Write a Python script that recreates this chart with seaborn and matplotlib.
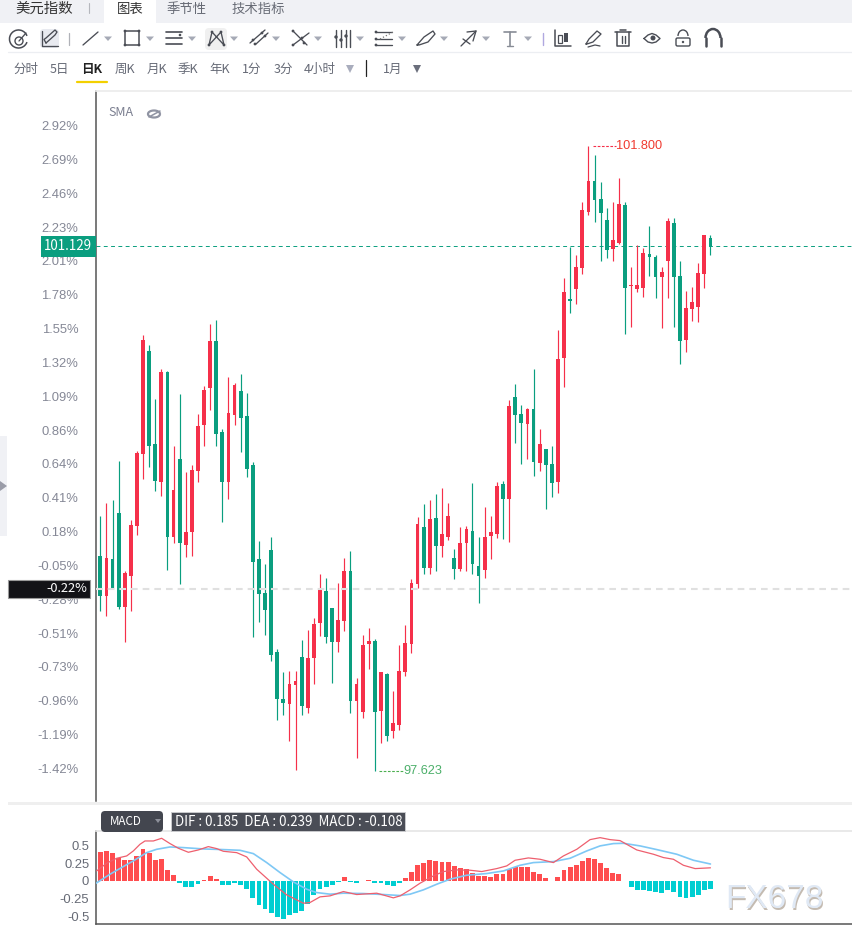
import numpy as np
import pandas as pd
import matplotlib
matplotlib.use("Agg")
import matplotlib.pyplot as plt
from matplotlib.patches import Rectangle, Circle, FancyBboxPatch, Arc, Polygon
from matplotlib.transforms import ScaledTranslation
import seaborn as sns

# Daily candles for the US dollar index (open / high / low / close)
candle_open = [99.060,98.793,99.040,99.347,98.719,98.926,99.260,99.742,100.430,99.809,99.555,100.290,99.187,99.709,99.133,99.220,99.628,99.936,100.183,100.497,99.889,99.555,100.003,100.163,99.996,99.668,99.040,98.813,99.100,98.419,98.105,98.071,98.198,98.386,98.045,98.379,98.612,98.826,98.713,98.485,98.625,98.960,98.091,98.018,98.472,98.492,98.024,98.272,97.891,97.931,98.285,98.472,98.873,99.253,98.980,99.313,99.127,99.187,99.047,98.973,99.147,99.227,98.993,98.966,99.193,99.207,99.541,99.441,100.123,100.009,99.943,100.043,99.682,99.776,99.675,99.555,100.384,100.778,100.845,100.985,101.359,101.566,101.446,101.306,101.112,101.152,101.406,100.865,100.845,100.851,101.078,101.058,100.925,101.031,101.286,100.931,100.504,100.711,100.724,100.945,101.186]
candle_high = [99.327,99.414,99.434,99.695,98.959,99.300,99.762,100.537,100.470,100.109,100.310,100.297,99.796,100.143,99.622,99.668,100.009,100.196,100.611,100.637,99.909,100.257,100.216,100.277,100.150,99.689,99.160,99.007,99.187,98.439,98.285,98.292,98.292,98.499,98.566,98.646,98.940,98.913,98.713,98.880,99.047,99.093,98.245,98.532,98.579,98.505,98.285,98.278,98.158,98.465,98.599,98.906,99.320,99.407,99.434,99.474,99.514,99.414,99.107,99.253,99.260,99.548,99.187,99.387,99.327,99.555,99.561,100.103,100.210,100.069,100.049,100.310,99.909,99.776,99.796,100.571,100.918,101.125,101.071,101.426,101.800,101.740,101.560,101.386,101.426,101.586,101.426,100.991,101.139,101.119,101.266,101.071,100.991,101.319,101.319,101.031,100.831,100.858,101.018,101.206,101.206]
candle_low = [98.692,98.659,98.839,98.706,98.485,98.692,99.200,99.575,99.656,99.494,99.461,98.966,99.147,98.873,99.053,99.060,99.555,99.796,100.036,99.796,99.287,99.441,99.936,99.756,99.588,98.519,98.619,98.532,98.359,97.964,97.998,97.824,97.630,97.998,98.011,98.205,98.525,98.479,98.212,98.419,98.559,98.011,97.711,97.978,98.305,97.623,97.811,97.824,97.844,97.898,98.258,98.412,98.846,98.940,98.940,98.960,99.053,99.167,98.906,98.960,98.960,98.940,98.746,98.913,99.040,99.180,99.173,99.153,99.816,99.675,99.709,99.595,99.628,99.374,99.454,99.481,100.190,100.684,100.744,100.945,101.339,101.292,101.031,101.051,101.031,101.145,100.544,100.591,100.825,100.791,100.931,100.785,100.585,100.785,100.591,100.343,100.423,100.631,100.624,100.851,101.071]
candle_close = [98.793,99.047,98.846,98.719,98.946,99.267,99.749,100.504,99.796,99.561,100.290,99.187,99.501,99.147,99.220,99.635,99.929,100.170,100.497,99.876,99.555,100.016,100.203,99.983,99.642,99.020,98.806,98.699,98.399,98.105,98.078,98.205,98.225,98.058,98.379,98.606,98.833,98.519,98.485,98.632,98.960,98.091,98.205,98.465,98.492,98.018,98.285,97.857,97.944,98.292,98.479,98.880,99.273,98.980,99.307,99.127,99.207,99.327,98.973,99.147,99.240,99.007,98.926,99.187,99.220,99.528,99.441,100.063,100.003,99.949,100.043,99.689,99.809,99.668,99.548,100.377,100.825,100.764,100.991,101.373,101.566,101.439,101.352,101.105,101.172,101.413,100.851,100.871,100.871,101.085,101.058,100.925,100.958,101.299,100.925,100.497,100.718,100.758,100.951,101.206,101.129]

last_price = 101.129
crosshair_pct = -0.22
base_price = 99.058
axis_pct = [2.92,2.69,2.46,2.23,2.01,1.78,1.55,1.32,1.09,0.86,0.64,0.41,0.18,-0.05,-0.28,-0.51,-0.73,-0.96,-1.19,-1.42]

# MACD histogram, one value per candle
macd_hist = [.414,.429,.396,.325,.297,.297,.353,.452,.396,.297,.311,.155,.085,-.028,-.085,-.085,-.042,.014,.071,.028,-.057,-.057,-.028,-.057,-.113,-.240,-.339,-.396,-.452,-.509,-.537,-.480,-.452,-.424,-.325,-.198,-.113,-.085,-.057,-.014,.057,-.014,-.028,.005,.014,-.028,-.028,-.057,-.071,-.028,.042,.127,.226,.254,.297,.283,.268,.268,.212,.184,.170,.113,.071,.071,.057,.099,.099,.170,.198,.198,.198,.127,.099,.042,-.005,.057,.155,.198,.226,.283,.325,.311,.254,.184,.113,.099,-.005,-.085,-.127,-.127,-.141,-.155,-.170,-.127,-.155,-.226,-.240,-.226,-.198,-.127,-.108]

dif_days = [-.6,1.04,2.68,4.32,5.41,6.5,7.32,8.69,10.05,11.42,12.79,14.43,16.07,17.7,19.07,20.16,22.35,23.99,25.63,28.36,30.55,33.28,34.37,36.01,37.65,39.84,42.02,45.3,48.03,49.13,50.77,52.4,54.59,56.23,58.42,60.6,62.51,64.97,66.61,67.98,70.16,72.08,74.26,75.9,78.09,80.27,81.91,83.55,85.19,87.92,90.66,92.3,93.93,95.57,97.49,100]
dif_values = [.141,.25,.32,.353,.424,.518,.565,.565,.603,.528,.462,.405,.438,.485,.457,.419,.400,.339,.165,-.047,-.198,-.316,-.306,-.226,-.212,-.151,-.193,-.174,-.240,-.212,-.127,-.033,.071,.132,.155,.151,.132,.174,.212,.292,.325,.306,.259,.353,.447,.584,.612,.584,.570,.438,.377,.330,.306,.221,.174,.185]
dea_days = [-.7,1.58,3.77,5.41,7.6,9.23,11.42,13.61,16.89,20.16,22.9,25.08,27.27,29.45,31.64,33.83,35.46,37.65,39.84,43.11,46.39,49.13,50.77,52.95,55.14,57.32,60.05,63.33,66.07,68.8,70.98,74.26,76.99,79.73,81.91,84.1,85.74,88.47,91.2,94.48,97.21,100]
dea_values = [-.033,.094,.203,.283,.400,.447,.480,.471,.452,.443,.433,.386,.259,.118,-.014,-.118,-.165,-.188,-.174,-.179,-.193,-.207,-.188,-.127,-.047,.024,.080,.104,.141,.221,.259,.273,.320,.424,.495,.528,.532,.495,.443,.377,.292,.239]
macd_ticks = [0.5,0.25,0,-0.25,-0.5]
macd_tick_labels = ["0.5","0.25","0","-0.25","-0.5"]

period_labels = ["分时","5日","日K","周K","月K","季K","年K","1分","3分","4小时"]
tab_labels = ["图表","季节性","技术指标"]

UP = "#f5304a"
DOWN = "#0a9e7f"
W, H = 852, 933

sns.set_theme(style="white")
plt.rcParams["font.family"] = ["Liberation Sans", "Noto Sans CJK SC", "DejaVu Sans"]
CJK = ["Noto Sans CJK SC", "DejaVu Sans"]


def frame(left, top, right, bottom):
    return [left / W, 1 - bottom / H, (right - left) / W, (bottom - top) / H]


fig = plt.figure(figsize=(W / 100, H / 100), dpi=100, facecolor="white")
ax = fig.add_axes(frame(95.5, 91, 852, 801))
ax_macd = fig.add_axes(frame(95.5, 831, 852, 924))

# Candlesticks
candles = pd.DataFrame({"day": np.arange(len(candle_open)), "open": candle_open,
                        "high": candle_high, "low": candle_low, "close": candle_close})
candles["rising"] = candles["close"] >= candles["open"]
candles["floor"] = candles[["open", "close"]].min(axis=1)
candles["span"] = (candles["open"] - candles["close"]).abs()

for rising, colour in [(True, UP), (False, DOWN)]:
    part = candles[candles["rising"] == rising]
    ax.vlines(part["day"], part["low"], part["high"], color=colour, lw=0.85, zorder=2)
    sns.barplot(data=part, x="day", y="span", bottom=part["floor"].to_numpy(), native_scale=True,
                width=0.62, color=colour, saturation=1, linewidth=0, errorbar=None, ax=ax, zorder=3)

ax.axhline(last_price, color=DOWN, lw=0.7, ls=(0, (4, 3.5)), zorder=1)
crosshair_price = base_price * (1 + crosshair_pct / 100)
ax.axhline(crosshair_price, color="#e0e0e0", lw=1.5, ls=(0, (3.2, 2.4)), zorder=4)

# High / low call-outs
top_idx = int(candles["high"].idxmax())
low_idx = int(candles["low"].idxmin())
top_val = candles["high"].max()
low_val = candles["low"].min()
ax.plot([top_idx + 0.7, top_idx + 4.6], [top_val, top_val], color=UP, lw=0.8, ls=(0, (2.4, 1.4)))
ax.text(top_idx + 4.6, top_val, f"{top_val:.3f}", color="#f0392f", fontsize=9.2, va="center", ha="left")
ax.plot([low_idx + 0.7, low_idx + 4.6], [low_val, low_val], color="#4caf50", lw=0.8, ls=(0, (2.4, 1.4)))
ax.text(low_idx + 4.6, low_val, f"{low_val:.3f}", color="#4caf6a", fontsize=9.2, va="center", ha="left")

ax.set_xlim(-0.79, 123.2)
ax.set_ylim(97.423, 102.168)
ax.set_xticks([])
ax.set_xlabel("")
ax.set_ylabel("")
ax.set_yticks([base_price * (1 + p / 100) for p in axis_pct])
ax.set_yticklabels([f"{p:.2f}%" for p in axis_pct], fontsize=9.4, color="#858896")
ax.tick_params(axis="y", length=0, pad=12.4)
# Nudge the percent labels slightly below their gridless tick positions
label_nudge = ScaledTranslation(0, -1.7 / 100, fig.dpi_scale_trans)
for tick_text in ax.get_yticklabels():
    tick_text.set_transform(tick_text.get_transform() + label_nudge)
for side in ("right", "bottom"):
    ax.spines[side].set_visible(False)
ax.spines["top"].set_color("#ececec")
ax.spines["left"].set_color("#555555")
ax.spines["left"].set_linewidth(1.1)

# MACD panel
hist = pd.DataFrame({"day": np.arange(len(macd_hist)), "value": macd_hist})
hist["side"] = np.where(hist["value"] >= 0, "up", "down")
sns.barplot(data=hist, x="day", y="value", hue="side", palette={"up": "#ff4d4f", "down": "#00ced1"},
            native_scale=True, dodge=False, width=0.8, saturation=1, linewidth=0, errorbar=None,
            legend=False, ax=ax_macd, zorder=2)
sns.lineplot(x=dea_days, y=dea_values, sort=False, errorbar=None, color="#7ec8f5", lw=1.2, ax=ax_macd, zorder=3)
sns.lineplot(x=dif_days, y=dif_values, sort=False, errorbar=None, color="#ee5f6e", lw=0.9, ax=ax_macd, zorder=4)
ax_macd.set_xlim(-0.79, 123.2)
ax_macd.set_ylim(-0.61, 0.706)
ax_macd.set_xticks([])
ax_macd.set_xlabel("")
ax_macd.set_ylabel("")
ax_macd.set_yticks(macd_ticks)
ax_macd.set_yticklabels(macd_tick_labels, fontsize=9.4, color="#666a75")
ax_macd.tick_params(axis="y", length=0, pad=4.5)
ax_macd.spines["right"].set_visible(False)
ax_macd.spines["top"].set_color("#e6e6e6")
for side in ("left", "bottom"):
    ax_macd.spines[side].set_color("#555555")
    ax_macd.spines[side].set_linewidth(1.1)

# Application chrome, drawn in pixel units on a transparent overlay
ui = fig.add_axes([0, 0, 1, 1], zorder=10)
ui.set_xlim(0, W)
ui.set_ylim(H, 0)
ui.axis("off")
ui.patch.set_alpha(0)
INK = "#4a4d55"


def line(xs, ys, c=INK, lw=0.95, **kw):
    ui.plot(xs, ys, color=c, lw=lw, solid_capstyle="round", **kw)


def dot(x, y, r=1.4, c=INK):
    ui.add_patch(Circle((x, y), r, color=c, lw=0))


def caret(x, y=38.5, c="#a6aab6", s=4):
    ui.add_patch(Polygon([(x - s, y - 2), (x + s, y - 2), (x, y + 2.5)], closed=True, color=c, lw=0))


def label(x, y, s, size=9.4, c="#555866", ha="center", **kw):
    ui.text(x, y, s, fontsize=size, color=c, ha=ha, va="center", family=CJK, **kw)


# tabs
ui.add_patch(Rectangle((0, 0), W, 23, color="#f0f1f5", lw=0))
ui.add_patch(Rectangle((104, 0), 52, 23, color="white", lw=0))
label(44, 9, "美元指数", size=10.4, c="#333333")
line([89, 89], [3, 13], c="#b5b7bd", lw=0.8)
for x, s, c in zip([130, 187, 258], tab_labels, ["#333333", "#666a74", "#666a74"]):
    label(x, 9, s, size=9.6, c=c)

# drawing tool strip
ui.add_patch(Arc((18.5, 39), 18, 18, theta1=20, theta2=340, color=INK, lw=1.1))
ui.add_patch(Circle((19, 41), 4, fill=False, ec=INK, lw=1.0))
line([19, 26], [41, 33])
ui.add_patch(FancyBboxPatch((40, 29), 19, 19, boxstyle="round,pad=0,rounding_size=4", color="#e8eaf0", lw=0))
line([42, 42, 58], [31, 46, 46])
line([46, 44, 46, 55, 57, 55, 46], [43, 39.5, 38, 30, 32, 35, 43])
line([69, 69], [33, 45], c="#b0b2b8", lw=0.9)
line([83, 98], [45, 32])
caret(108)
ui.add_patch(Rectangle((125, 31), 14, 14, fill=False, ec=INK, lw=1.1))
for px, py in [(125, 31), (139, 31), (125, 45), (139, 45)]:
    dot(px, py)
caret(150)
for yy, xe in [(32, 182), (38, 182), (44, 182)]:
    line([166, xe], [yy, yy], lw=1.2)
dot(180, 35, 1.3)
caret(192)
ui.add_patch(FancyBboxPatch((205, 28), 22, 22, boxstyle="round,pad=0,rounding_size=4", color="#f0f0f0", lw=0))
line([209, 212, 224, 221, 209], [45, 32, 45, 32, 45])
for px, py in [(209, 45), (212, 32), (224, 45), (221, 32)]:
    dot(px, py)
caret(234)
line([250, 265], [43, 30])
line([256, 268], [44, 33])
dot(253, 40), dot(262, 33), dot(255, 44), dot(265, 36)
caret(276)
line([293, 307], [31, 45])
line([293, 309], [45, 33])
dot(293, 31), dot(293, 45), dot(304, 43), dot(302, 38)
caret(318)
for xx, my in zip([336, 341, 346, 350], [37, 40, 36, None]):
    line([xx, xx], [30, 47], lw=1.0)
    if my:
        dot(xx, my, 1.7)
caret(360)
line([376, 392], [32, 32])
line([376, 392], [39, 39])
line([376, 392], [45, 45])
line([380, 393], [39, 32], c="#777777", lw=0.9, ls=":")
dot(376, 32), dot(376, 45), dot(376, 39)
caret(402)
line([417, 424, 433, 435, 428, 419, 417], [45, 37, 31, 34, 42, 45, 45])
caret(444)
line([461, 476], [46, 31])
line([467, 476, 473], [32, 31, 41])
line([463, 470], [39, 44])
caret(486)
line([504, 516], [32, 32], c="#888c96", lw=1.2)
line([510, 510], [32, 46], c="#888c96", lw=1.2)
line([507, 513], [46, 46], c="#888c96", lw=1)
caret(528)
line([543, 543], [33, 45], c="#b0a8e0", lw=1)
line([555, 555, 571], [30, 46, 46], lw=1.1)
ui.add_patch(Rectangle((558, 35), 3.5, 8, fill=False, ec=INK, lw=0.9))
ui.add_patch(Rectangle((564, 33), 3.5, 9, color=INK, lw=0))
line([586, 589, 597, 601, 593, 587, 586], [44, 39, 31, 34, 42, 44, 44])
line([588, 595, 600], [47, 45, 46], lw=0.9)
line([615, 631], [32, 32], lw=1.1)
line([617, 617, 629, 629], [32, 46, 46, 32], lw=1.1)
line([620, 626], [29.5, 29.5], lw=1.1)
line([621.5, 621.5], [36, 43], lw=1)
line([625, 625], [36, 43], lw=1)
xs = np.array([644, 648, 652, 656, 660, 656, 652, 648, 644])
line(xs, [38.5, 35, 33.5, 35, 38.5, 42, 43, 42, 38.5], lw=1.0)
dot(653, 38, 2.5)
ui.add_patch(FancyBboxPatch((676, 38), 14, 8, boxstyle="round,pad=0,rounding_size=1.5", fill=False, ec=INK, lw=1.0))
ui.add_patch(Arc((683, 36), 10, 12, theta1=180, theta2=360, color=INK, lw=1.0))
dot(683, 42, 1.2)
ui.add_patch(Arc((713, 38), 15, 18, theta1=180, theta2=360, color=INK, lw=1.8))
line([705.5, 705.5], [38, 46], lw=1.8)
line([720.5, 720.5], [38, 46], lw=1.8)
line([8, 852], [52, 52], c="#eceef2", lw=0.9)

# period selector
period_x = [26, 59, 92, 125, 157, 188, 220, 252, 283, 320]
for x, s in zip(period_x, period_labels):
    if s == "日K":
        label(x, 69, s, size=9, c="#222222", fontweight="bold")
    else:
        label(x, 69, s, size=9, c="#666a76")
line([77, 107], [81.5, 81.5], c="#f3d000", lw=1.6)
ui.add_patch(Polygon([(346, 65), (354, 65), (350, 73)], closed=True, color="#a9adbd", lw=0))
line([365.5, 365.5], [60, 76], c="#222222", lw=0.9)
label(393, 69, "1月", size=9, c="#666a76")
ui.add_patch(Polygon([(413, 65), (421, 65), (417, 73)], closed=True, color="#6b6f7c", lw=0))

# indicator caption on the price panel
label(121, 113, "SMA", size=9, c="#7b7f90")
ui.add_patch(Arc((154, 114), 12, 7, color="#9094a3", lw=1.6))
line([149, 160], [117, 111], c="#9094a3", lw=1.1)

# price flags
ui.add_patch(Rectangle((41, 236), 54.5, 21, color=DOWN, lw=0))
label(68, 246.5, f"{last_price:.3f}", size=9.6, c="white")
ui.add_patch(Rectangle((8, 580), 82, 18, fc="#131317", ec="#9a9a9a", lw=0.8))
label(87, 589, f"{crosshair_pct:.2f}%", size=9.2, c="white", ha="right")

# collapsed side panel
ui.add_patch(Rectangle((0, 436), 7, 100, color="#f0f1f5", lw=0))
ui.add_patch(Polygon([(0, 481), (7, 486), (0, 491)], closed=True, color="#9a9ca8", lw=0))

# separator and MACD header
ui.add_patch(Rectangle((8, 802), W - 8, 3, color="#efefef", lw=0))
ui.add_patch(FancyBboxPatch((101, 811), 62, 21, boxstyle="round,pad=0,rounding_size=4", color="#43464f", lw=0))
label(126, 821.5, "MACD", size=8.4, c="white")
ui.add_patch(Polygon([(155, 819), (161, 819), (158, 823)], closed=True, color="#8d909a", lw=0))
ui.add_patch(Rectangle((170.5, 812), 234, 19, fc="#4a4d56", ec="#c9cacd", lw=0.7))
label(175, 821.5, f"DIF : {dif_values[-1]:.3f}  DEA : {dea_values[-1]:.3f}  MACD : {macd_hist[-1]:.3f}",
      size=9.55, c="white", ha="left")

# FX678 mark
ui.text(726, 901, "FX678", fontsize=24, color="#c4bbb1", va="center", ha="left", family="Liberation Sans")
ui.text(725, 900, "FX678", fontsize=24, color="#e0e9f5", va="center", ha="left", family="Liberation Sans")

fig.savefig("out.png", dpi=100)
